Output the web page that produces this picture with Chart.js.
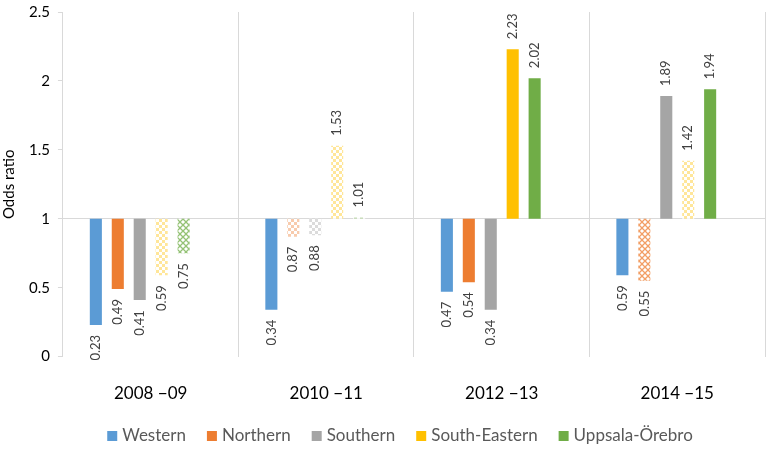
<!DOCTYPE html>
<html>
<head>
<meta charset="utf-8">
<script src="https://cdn.jsdelivr.net/npm/chart.js@4.4.0/dist/chart.umd.min.js"></script>
<style>
  html, body { margin: 0; padding: 0; background: #fff; }
  #wrap { width: 767px; height: 455px; position: relative; }
</style>
</head>
<body>
<div id="wrap"><canvas id="myChart"></canvas></div>
<script>
// 데이터
const periods = ['2008 \u221209', '2010 \u221211', '2012 \u221213', '2014 \u221215'];
const regions = ['Western', 'Northern', 'Southern', 'South-Eastern', 'Uppsala-Örebro'];
const colors = ['#5B9BD5', '#ED7D31', '#A5A5A5', '#FFC000', '#70AD47'];

const western = [0.23, 0.34, 0.47, 0.59];
const northern = [0.49, 0.87, 0.54, 0.55];
const southern = [0.41, 0.88, 0.34, 1.89];
const southEastern = [0.59, 1.53, 2.23, 1.42];
const uppsala = [0.75, 1.01, 2.02, 1.94];

// 0 = solid, 1 = light checker, 2 = cross hatch
const westernFill = [0, 0, 0, 0];
const northernFill = [0, 1, 0, 2];
const southernFill = [0, 1, 0, 0];
const southEasternFill = [1, 1, 0, 1];
const uppsalaFill = [2, 1, 0, 0];

const baseline = 1;
const yTicks = [0, 0.5, 1, 1.5, 2, 2.5];

const seriesValues = [western, northern, southern, southEastern, uppsala];
const seriesFills = [westernFill, northernFill, southernFill, southEasternFill, uppsalaFill];

const FONT = 'Lato, "Open Sans", sans-serif';

// 패턴 만들기
function hexToRgba(hex, a) {
    var r = parseInt(hex.substr(1, 2), 16);
    var g = parseInt(hex.substr(3, 2), 16);
    var b = parseInt(hex.substr(5, 2), 16);
    return 'rgba(' + r + ',' + g + ',' + b + ',' + a + ')';
}

function makePattern(color, kind) {
    var c = document.createElement('canvas');
    c.width = 6;
    c.height = 6;
    var p = c.getContext('2d');
    p.fillStyle = '#fff';
    p.fillRect(0, 0, 6, 6);
    if (kind === 1) {
        p.fillStyle = hexToRgba(color, 0.4);
        p.fillRect(0, 0, 3, 3);
        p.fillRect(3, 3, 3, 3);
    } else {
        p.strokeStyle = hexToRgba(color, 0.75);
        p.lineWidth = 1.3;
        p.beginPath();
        p.moveTo(0, 0); p.lineTo(6, 6);
        p.moveTo(6, 0); p.lineTo(0, 6);
        p.stroke();
    }
    return document.createElement('canvas').getContext('2d').createPattern(c, 'repeat');
}

const datasets = regions.map(function(name, i) {
    return {
        label: name,
        data: seriesValues[i].map(function(v) { return [baseline, v]; }),
        values: seriesValues[i],
        backgroundColor: seriesFills[i].map(function(f) {
            return f === 0 ? colors[i] : makePattern(colors[i], f);
        }),
        legendColor: colors[i],
        borderWidth: 0,
        categoryPercentage: 0.75,
        barPercentage: 0.55
    };
});
// 원본 엑셀 차트에 빈 시리즈 자리가 하나 더 있음
datasets.push({
    label: '',
    data: periods.map(function() { return null; }),
    categoryPercentage: 0.75,
    barPercentage: 0.55
});

// 막대 끝에 세로 라벨
const barLabels = {
    id: 'barLabels',
    afterDatasetsDraw: function(chart) {
        var ctx = chart.ctx;
        var yScale = chart.scales.y;
        ctx.save();
        ctx.font = '13px ' + FONT;
        ctx.fillStyle = '#404040';
        ctx.textBaseline = 'middle';
        chart.data.datasets.forEach(function(ds, di) {
            if (!ds.values) return;
            var meta = chart.getDatasetMeta(di);
            meta.data.forEach(function(bar, i) {
                var v = ds.values[i];
                ctx.save();
                ctx.translate(bar.x, yScale.getPixelForValue(v));
                ctx.rotate(-Math.PI / 2);
                if (v >= baseline) {
                    ctx.textAlign = 'left';
                    ctx.fillText(v.toFixed(2), 10, 0);
                } else {
                    ctx.textAlign = 'right';
                    ctx.fillText(v.toFixed(2), -10, 0);
                }
                ctx.restore();
            });
        });
        ctx.restore();
    }
};

// 범례 (아래쪽 한 줄)
const bottomLegend = {
    id: 'bottomLegend',
    afterDraw: function(chart) {
        var ctx = chart.ctx;
        var items = chart.data.datasets.filter(function(ds) { return ds.label !== ''; });
        var box = 10, gapText = 5, gapItem = 21;
        ctx.save();
        ctx.font = '17px ' + FONT;
        ctx.textBaseline = 'middle';
        var total = 0;
        items.forEach(function(ds, i) {
            total += box + gapText + ctx.measureText(ds.label).width + (i > 0 ? gapItem : 0);
        });
        var x = 400 - total / 2;
        var y = 436;
        items.forEach(function(ds) {
            ctx.fillStyle = ds.legendColor;
            ctx.fillRect(x, y - box / 2, box, box);
            x += box + gapText;
            ctx.fillStyle = '#595959';
            ctx.textAlign = 'left';
            ctx.fillText(ds.label, x, y);
            x += ctx.measureText(ds.label).width + gapItem;
        });
        ctx.restore();
    }
};

const ctx = document.getElementById('myChart').getContext('2d');
const chart = new Chart(ctx, {
    type: 'bar',
    data: {
        labels: periods,
        datasets: datasets
    },
    plugins: [barLabels, bottomLegend],
    options: {
        responsive: true,
        maintainAspectRatio: false,
        animation: false,
        layout: {
            padding: { left: 0, right: 2, top: 0, bottom: 24 }
        },
        plugins: {
            legend: { display: false },
            tooltip: { enabled: false }
        },
        scales: {
            x: {
                grid: {
                    offset: true,
                    color: '#D9D9D9',
                    drawTicks: false
                },
                border: { display: false },
                ticks: {
                    padding: 27,
                    color: '#000',
                    font: { family: FONT, size: 17 }
                }
            },
            y: {
                min: 0,
                max: 2.5,
                afterBuildTicks: function(axis) {
                    axis.ticks = yTicks.map(function(v) { return { value: v }; });
                },
                // 위쪽 여백은 라벨 높이 절반만
                afterFit: function(scale) {
                    scale.paddingTop = 12;
                },
                grid: {
                    color: function(c) { return c.tick && c.tick.value === baseline ? '#D9D9D9' : 'rgba(0,0,0,0)'; },
                    tickColor: '#D9D9D9',
                    tickLength: 5
                },
                border: { display: true, color: '#D9D9D9' },
                ticks: {
                    padding: 8,
                    color: '#000',
                    font: { family: FONT, size: 15 },
                    callback: function(v) { return String(v); }
                },
                title: {
                    display: true,
                    text: 'Odds ratio',
                    color: '#000',
                    padding: { top: 0, bottom: 3 },
                    font: { family: FONT, size: 15 }
                }
            }
        }
    }
});
</script>
</body>
</html>
